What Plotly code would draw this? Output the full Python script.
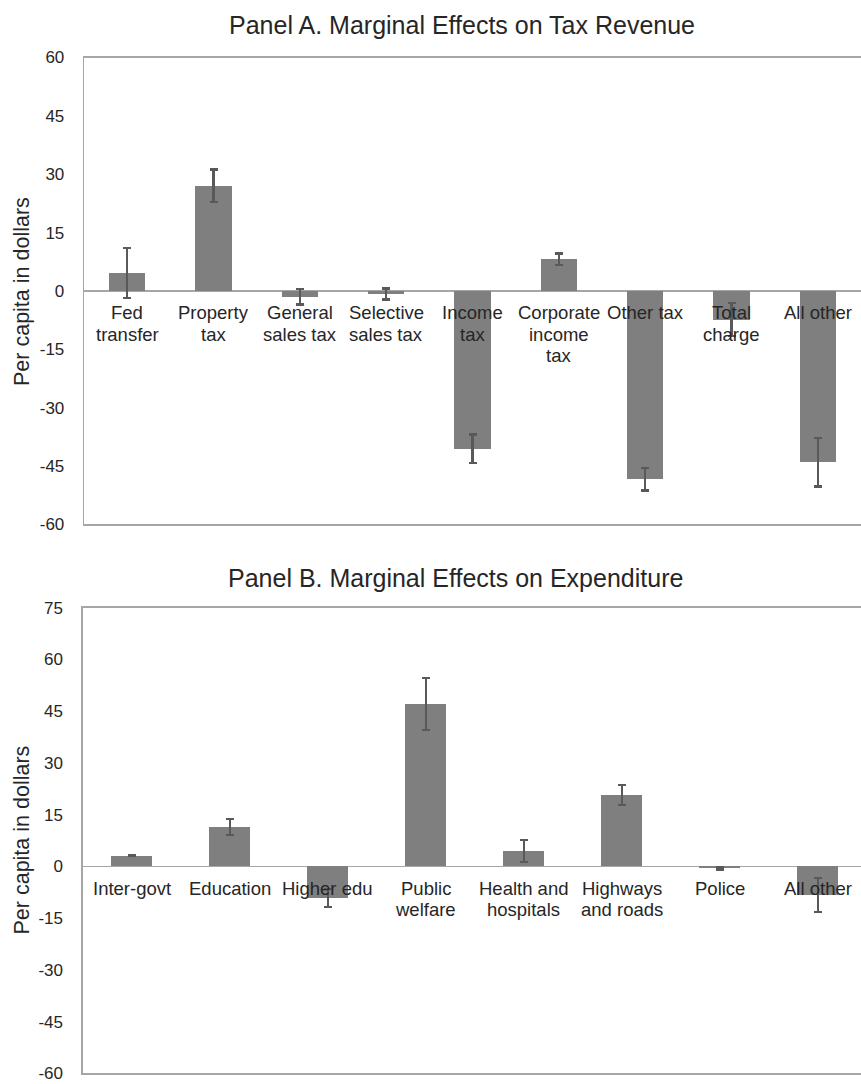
import plotly.graph_objects as go

# Panel A data
cats_a = ["Fed\ntransfer", "Property\ntax", "General\nsales tax", "Selective\nsales tax",
          "Income\ntax", "Corporate\nincome\ntax", "Other tax", "Total\ncharge", "All other"]
vals_a = [4.6, 27.0, -1.5, -0.8, -40.6, 8.1, -48.4, -7.4, -44.1]
errs_a = [6.5, 4.2, 2.0, 1.4, 3.7, 1.5, 2.9, 4.2, 6.2]

# Panel B data
cats_b = ["Inter-govt", "Education", "Higher edu", "Public\nwelfare", "Health and\nhospitals",
          "Highways\nand roads", "Police", "All other"]
vals_b = [3.1, 11.5, -9.2, 47.1, 4.4, 20.7, -0.5, -8.3]
errs_b = [0.2, 2.3, 2.6, 7.6, 3.2, 2.8, 0.4, 4.9]

ticks_a = [60, 45, 30, 15, 0, -15, -30, -45, -60]
ticks_b = [75, 60, 45, 30, 15, 0, -15, -30, -45, -60]
ticklabels_a = ["60", "45", "30", "15", "0", "-15", "-30", "-45", "-60"]
ticklabels_b = ["75", "60", "45", "30", "15", "0", "-15", "-30", "-45", "-60"]

title_a = "Panel A. Marginal Effects on Tax Revenue"
title_b = "Panel B. Marginal Effects on Expenditure"
ytitle = "Per capita in dollars"

W, H = 861, 1084
BAR = "#7f7f7f"
ERR = "#595959"
LINE = "#a6a6a6"
TXT = "#262626"
FONT = "Liberation Sans, Arial, sans-serif"

fig = go.Figure()
fig.add_trace(go.Bar(x=list(range(len(cats_a))), y=vals_a, width=0.42,
                     marker=dict(color=BAR, line=dict(width=0)),
                     error_y=dict(type="data", array=errs_a, color=ERR, thickness=2.2, width=4),
                     xaxis="x", yaxis="y", showlegend=False))
fig.add_trace(go.Bar(x=list(range(len(cats_b))), y=vals_b, width=0.42,
                     marker=dict(color=BAR, line=dict(width=0)),
                     error_y=dict(type="data", array=errs_b, color=ERR, thickness=2.2, width=4),
                     xaxis="x2", yaxis="y2", showlegend=False))

def py(px):
    return 1 - px / H

dom_a_y = [py(524.3), py(57.5)]
dom_b_y = [py(1073.3), py(607.7)]

xcommon = dict(showline=True, mirror=True, linecolor=LINE, linewidth=1.3,
               showticklabels=False, ticks="", showgrid=False, zeroline=False,
               fixedrange=True, automargin=False)
ycommon = dict(showline=True, mirror=False, linecolor=LINE, linewidth=1.3,
               showgrid=False, zeroline=True, zerolinecolor=LINE, zerolinewidth=1.3,
               ticks="", ticklabelstandoff=15, automargin=False,
               tickfont=dict(family=FONT, size=17, color=TXT))

fig.update_layout(
    width=W, height=H,
    margin=dict(l=0, r=0, t=0, b=0),
    paper_bgcolor="white", plot_bgcolor="white",
    bargap=0,
    xaxis=dict(domain=[84 / W, 1], range=[-0.5, 8.5], anchor="y", **xcommon),
    yaxis=dict(domain=dom_a_y, range=[-60, 60], tickvals=ticks_a, ticktext=ticklabels_a,
               anchor="x", **ycommon),
    xaxis2=dict(domain=[82.7 / W, 1], range=[-0.5, 7.44], anchor="y2", **xcommon),
    yaxis2=dict(domain=dom_b_y, range=[-60, 75], tickvals=ticks_b, ticktext=ticklabels_b,
                anchor="x2", **ycommon),
)

anns = []
def add_labels(cats, xref, yref):
    for i, c in enumerate(cats):
        for j, line in enumerate(c.split("\n")):
            anns.append(dict(x=i, y=0, xref=xref, yref=yref, text=line, showarrow=False,
                             yanchor="middle", xanchor="center", yshift=-(22 + 21.5 * j),
                             font=dict(family=FONT, size=18.5, color=TXT)))

add_labels(cats_a, "x", "y")
add_labels(cats_b, "x2", "y2")

anns.append(dict(x=462 / W, y=py(25), xref="paper", yref="paper", text=title_a, showarrow=False,
                 xanchor="center", yanchor="middle", font=dict(family=FONT, size=25, color=TXT)))
anns.append(dict(x=455 / W, y=py(578), xref="paper", yref="paper", text=title_b, showarrow=False,
                 xanchor="center", yanchor="middle", font=dict(family=FONT, size=25, color=TXT)))
anns.append(dict(x=21.5 / W, y=py(291.5), xref="paper", yref="paper", text=ytitle, showarrow=False,
                 textangle=-90, xanchor="center", yanchor="middle",
                 font=dict(family=FONT, size=21.5, color=TXT)))
anns.append(dict(x=21.5 / W, y=py(840), xref="paper", yref="paper", text=ytitle, showarrow=False,
                 textangle=-90, xanchor="center", yanchor="middle",
                 font=dict(family=FONT, size=21.5, color=TXT)))
fig.update_layout(annotations=anns)

fig.write_html("out.html", config={"displayModeBar": False, "staticPlot": True},
               post_script="document.body.style.margin='0';document.body.style.padding='0';"
                           "document.body.style.overflow='hidden';")
